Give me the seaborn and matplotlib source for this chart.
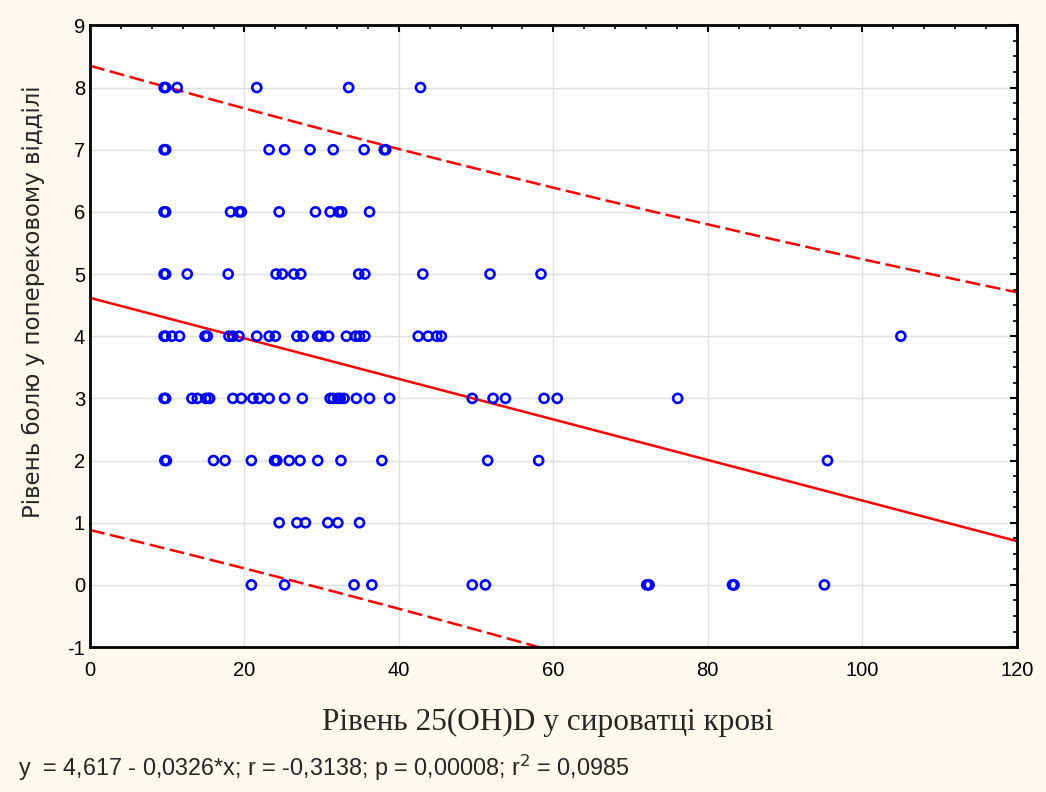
import numpy as np
import pandas as pd
import matplotlib
matplotlib.use('Agg')
import matplotlib.pyplot as plt
import seaborn as sns
from matplotlib.ticker import MultipleLocator

# 25(OH)D values, grouped by pain level
x_by_level = {
    8: [9.6, 9.8, 11.3, 21.6, 33.5, 42.8],
    7: [9.6, 9.8, 23.2, 25.2, 28.5, 31.5, 35.5, 38.1, 38.3],
    6: [9.6, 9.8, 18.2, 19.3, 19.6, 24.5, 29.2, 31.1, 32.2, 32.6, 36.2],
    5: [9.6, 9.8, 12.6, 17.9, 24.1, 24.9, 26.4, 27.3, 34.8, 35.6, 43.1, 51.8, 58.4],
    4: [9.6, 9.8, 10.6, 11.6, 14.9, 15.2, 18.0, 18.5, 19.3, 21.6, 23.2, 24.0,
        26.8, 27.6, 29.5, 29.9, 30.9, 33.2, 34.4, 34.9, 35.6, 42.5, 43.8, 44.9,
        45.5, 105.0],
    3: [9.6, 9.8, 13.2, 13.9, 15.0, 15.4, 15.5, 18.5, 19.6, 21.1, 21.9, 23.2,
        25.2, 27.5, 31.1, 31.5, 32.1, 32.4, 32.9, 34.5, 36.2, 38.8, 49.5, 52.2,
        53.8, 58.8, 60.5, 76.1],
    2: [9.7, 9.9, 16.0, 17.5, 20.9, 23.9, 24.2, 25.8, 27.2, 29.5, 32.5, 37.8,
        51.5, 58.1, 95.5],
    1: [24.5, 26.8, 27.9, 30.8, 32.1, 34.9],
    0: [20.9, 25.2, 34.2, 36.5, 49.5, 51.2, 72.1, 72.4, 83.2, 83.4, 95.1],
}

# regression stats from the caption
intercept = 4.617
slope = -0.0326
r2 = 0.0985
caption = 'y  = 4,617 - 0,0326*x; r = -0,3138; p = 0,00008; r$^2$ = 0,0985'

rows = [(x, lvl) for lvl, xs in x_by_level.items() for x in xs]
df = pd.DataFrame(rows, columns=['vitd', 'pain'])

# 95% prediction band around the fitted line
xs = df['vitd'].to_numpy()
n = len(xs)
sd_x = xs.std(ddof=1)
s = abs(slope) * np.sqrt(1 / r2 - 1) * sd_x
sxx = ((xs - xs.mean()) ** 2).sum()
grid = np.linspace(0, 120, 200)
fit = intercept + slope * grid
half = 1.96 * s * np.sqrt(1 + 1 / n + (grid - xs.mean()) ** 2 / sxx)
band = pd.DataFrame({'x': grid, 'fit': fit, 'lo': fit - half, 'hi': fit + half})

sns.set_style('white')
plt.rcParams['font.family'] = ['Liberation Sans', 'DejaVu Sans']
plt.rcParams['axes.unicode_minus'] = False

fig = plt.figure(figsize=(10.46, 7.92), dpi=100, facecolor='#fdf9ee')
ax = fig.add_axes([0.086, 0.183, 0.886, 0.785])
ax.set_facecolor('white')

sns.lineplot(data=band, x='x', y='fit', color='red', lw=1.8, ax=ax)
sns.lineplot(data=band, x='x', y='hi', color='red', lw=1.8, ax=ax)
sns.lineplot(data=band, x='x', y='lo', color='red', lw=1.8, ax=ax)
for ln in ax.lines[1:]:
    ln.set_dashes([6, 2.2])
sns.scatterplot(data=df, x='vitd', y='pain', marker='o', s=42,
                facecolor='none', edgecolor='#0000ff', linewidth=1.9, ax=ax, zorder=5)

ax.set_xlim(0, 120)
ax.set_ylim(-1, 9)
ax.xaxis.set_major_locator(MultipleLocator(20))
ax.xaxis.set_minor_locator(MultipleLocator(4))
ax.yaxis.set_major_locator(MultipleLocator(1))
ax.yaxis.set_minor_locator(MultipleLocator(0.25))
ax.tick_params(which='both', direction='in', top=True, right=True,
               labeltop=False, labelright=False, colors='black', labelsize=14.5)
ax.tick_params(which='major', length=5, width=1.5)
ax.tick_params(which='minor', length=3, width=1.2)
ax.tick_params(axis='x', pad=10)
ax.grid(True, which='major', color='#e0e0e0', lw=1)
for sp in ax.spines.values():
    sp.set_color('black')
    sp.set_linewidth(2)

ax.set_xlabel('Рівень 25(OH)D у сироватці крові', family=['Liberation Serif'],
              fontsize=22.5)
ax.xaxis.set_label_coords(0.494, -0.121)
ax.xaxis.label.set_va('center')
ax.set_ylabel('Рівень болю у поперековому відділі', family=['DejaVu Sans'],
              fontsize=16.5)
ax.yaxis.set_label_coords(-0.048, 0.556)
fig.text(0.017, 0.030, caption, fontsize=16.8, ha='left', va='center')

fig.savefig('out.png', dpi=100, facecolor=fig.get_facecolor())
